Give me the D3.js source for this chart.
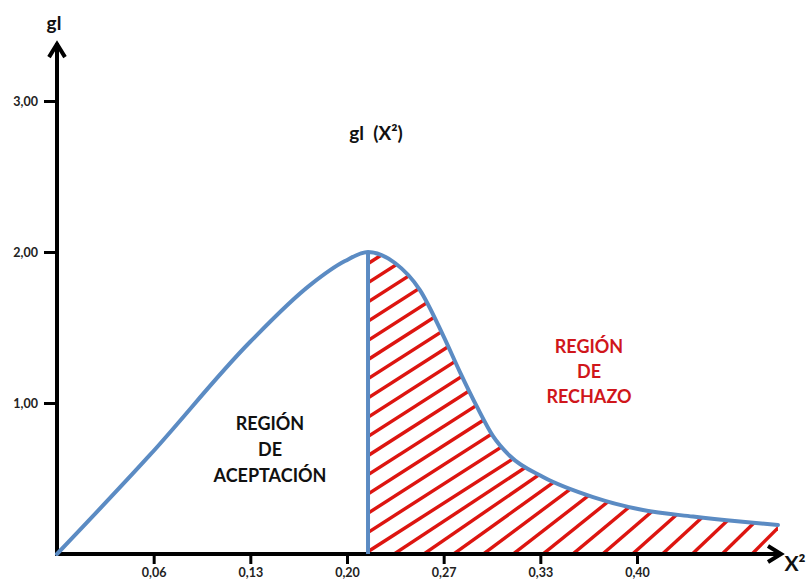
<!DOCTYPE html>
<html>
<head>
<meta charset="utf-8">
<script src="https://cdn.jsdelivr.net/npm/d3@7"></script>
<style>
  body { margin: 0; background: #fff; }
  svg text { font-family: Lato, "Open Sans", sans-serif; font-weight: bold; }
</style>
</head>
<body>
<div id="chart"></div>
<script>
// curve
const xVals = [0, 0.0641, 0.1331, 0.1745, 0.1986, 0.2145, 0.2331, 0.2503, 0.2662, 0.2779, 0.2897, 0.3007, 0.3124, 0.3352, 0.3697, 0.4041, 0.4386, 0.4710, 0.4972];
const yVals = [0, 0.656, 1.404, 1.781, 1.940, 2.0, 1.927, 1.748, 1.450, 1.205, 0.974, 0.781, 0.649, 0.510, 0.377, 0.291, 0.248, 0.215, 0.192];
const criticalX = 0.2145;

const xTicks = [1/15, 2/15, 3/15, 4/15, 5/15, 6/15];
const xTickLabels = ["0,06", "0,13", "0,20", "0,27", "0,33", "0,40"];
const yTicks = [1, 2, 3];
const yTickLabels = ["1,00", "2,00", "3,00"];

const width = 809, height = 583;
const blue = "#5b8bc3", red = "#dd1510";

let svg = d3.select("#chart").append("svg")
  .attr("width", width)
  .attr("height", height);

let x = d3.scaleLinear().domain([0, 0.5]).range([57, 782]);
let y = d3.scaleLinear().domain([0, 3]).range([554, 101]);
const yTop = 3.39;

let pts = xVals.map((v, i) => ({ x: v, y: yVals[i] }));
let curve = d3.curveMonotoneX;

// clip for the rejection region
let right = pts.filter(d => d.x >= criticalX);
let area = d3.area()
  .x(d => x(d.x))
  .y0(y(0))
  .y1(d => y(d.y))
  .curve(curve);

svg.append("clipPath").attr("id", "rech")
  .append("path").attr("d", area(right));

// hatch lines, a bit flatter on the left like the drawing
let hatch = [];
let x0 = x(criticalX), x1 = x(0.5), H = 330;
for (let b = x0 - 520; b <= x1 + 10; b += 30) {
  let t = Math.max(0, Math.min(1, (b - x0) / (x1 - x0)));
  let m = 0.64 + t * 0.4;
  hatch.push({ b: b, m: m });
}
svg.append("g").attr("clip-path", "url(#rech)")
  .selectAll("line").data(hatch).join("line")
  .attr("x1", d => d.b)
  .attr("y1", y(0) + 4)
  .attr("x2", d => d.b + (H + 4) / d.m)
  .attr("y2", y(0) - H)
  .attr("stroke", red)
  .attr("stroke-width", 3.4);

// x axis
let xAxis = d3.axisBottom(x)
  .tickValues(xTicks)
  .tickFormat((d, i) => xTickLabels[i])
  .tickSize(10)
  .tickSizeOuter(0)
  .tickPadding(4);
let gx = svg.append("g").attr("transform", `translate(0,${y(0)})`).call(xAxis);
gx.select(".domain").remove();
gx.selectAll(".tick line").attr("stroke", "#000").attr("stroke-width", 3);
gx.selectAll(".tick text").attr("font-size", 12.5).attr("fill", "#222");

// y axis
let yAxis = d3.axisLeft(y)
  .tickValues(yTicks)
  .tickFormat((d, i) => yTickLabels[i])
  .tickSize(13)
  .tickSizeOuter(0)
  .tickPadding(6);
let gy = svg.append("g").attr("transform", `translate(${x(0)},0)`).call(yAxis);
gy.select(".domain").remove();
gy.selectAll(".tick line").attr("stroke", "#000").attr("stroke-width", 3);
gy.selectAll(".tick text").attr("font-size", 12.5).attr("fill", "#222");

// axis lines with open arrow heads
svg.append("line")
  .attr("x1", x(0)).attr("y1", y(0) + 2)
  .attr("x2", x(0)).attr("y2", y(yTop) + 1)
  .attr("stroke", "#000").attr("stroke-width", 4);
svg.append("path")
  .attr("d", `M${x(0) - 8},${y(yTop) + 15} L${x(0)},${y(yTop) + 2} L${x(0) + 8},${y(yTop) + 15}`)
  .attr("fill", "none").attr("stroke", "#000").attr("stroke-width", 4);

svg.append("line")
  .attr("x1", x(0) - 2).attr("y1", y(0))
  .attr("x2", x(0.5) - 1).attr("y2", y(0))
  .attr("stroke", "#000").attr("stroke-width", 4);
svg.append("path")
  .attr("d", `M${x(0.5) - 14},${y(0) - 8} L${x(0.5) - 1},${y(0)} L${x(0.5) - 14},${y(0) + 8}`)
  .attr("fill", "none").attr("stroke", "#000").attr("stroke-width", 4);

// critical value line
svg.append("line")
  .attr("x1", x(criticalX)).attr("y1", y(0))
  .attr("x2", x(criticalX)).attr("y2", y(2.0))
  .attr("stroke", blue).attr("stroke-width", 4);

// density curve
let line = d3.line()
  .x(d => x(d.x))
  .y(d => y(d.y))
  .curve(curve);
svg.append("path")
  .attr("d", line(pts))
  .attr("fill", "none")
  .attr("stroke", blue)
  .attr("stroke-width", 4)
  .attr("stroke-linecap", "round");

// labels
svg.append("text").attr("x", 54).attr("y", 30).attr("text-anchor", "middle")
  .attr("font-size", 19).attr("fill", "#111").text("gl");
svg.append("text").attr("x", 795).attr("y", 571).attr("text-anchor", "middle")
  .attr("font-size", 21).attr("fill", "#111").text("X²");
svg.append("text").attr("x", 376).attr("y", 140).attr("text-anchor", "middle")
  .attr("font-size", 19).attr("fill", "#111").attr("xml:space", "preserve").text("gl  (X²)");

let accept = ["REGIÓN", "DE", "ACEPTACIÓN"];
let reject = ["REGIÓN", "DE", "RECHAZO"];

svg.append("g").selectAll("text").data(accept).join("text")
  .attr("x", 270)
  .attr("y", (d, i) => 430 + i * 26)
  .attr("text-anchor", "middle")
  .attr("font-size", 18)
  .attr("fill", "#111")
  .text(d => d);

svg.append("g").selectAll("text").data(reject).join("text")
  .attr("x", 589)
  .attr("y", (d, i) => 353 + i * 25)
  .attr("text-anchor", "middle")
  .attr("font-size", 18)
  .attr("fill", "#d0161b")
  .text(d => d);
</script>
</body>
</html>
